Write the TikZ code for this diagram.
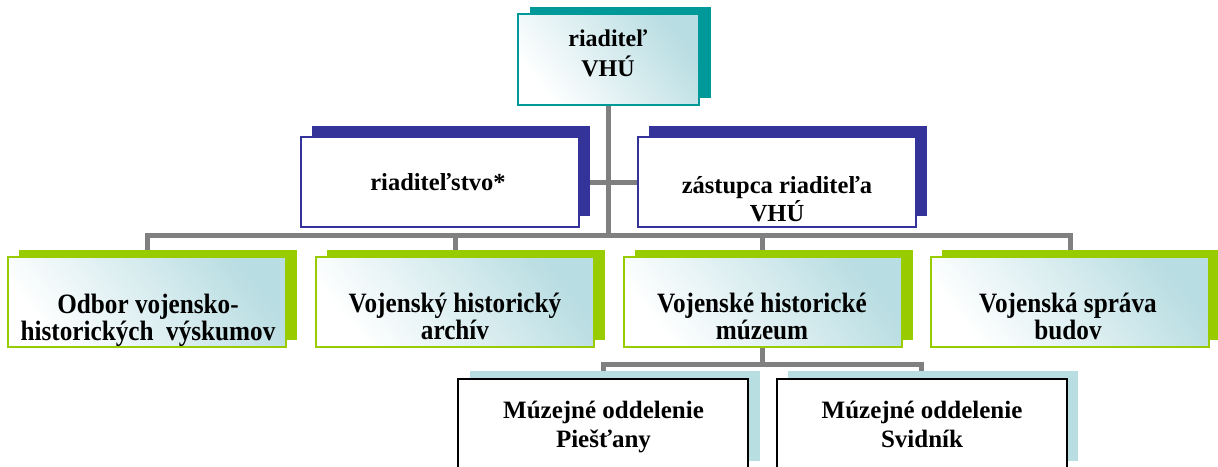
\documentclass[tikz,border=0pt]{standalone}
\usepackage{fontspec}
\setmainfont{Liberation Serif}
\newfontfamily\gfont[FakeStretch=0.9]{Liberation Serif}
\usetikzlibrary{shadows,backgrounds}
\definecolor{vteal}{HTML}{009999}
\definecolor{vnavy}{HTML}{333399}
\definecolor{vgreen}{HTML}{99CC00}
\definecolor{vlblue}{HTML}{B9DEE2}
\definecolor{vgb}{HTML}{B8DDE2}
\definecolor{vgray}{HTML}{808080}
\begin{document}
\begin{tikzpicture}[x=1pt,y=-1pt,
  box/.style={rectangle,inner sep=0pt},
  grad/.style={shading=axis,top color=vgb,middle color=vgb!30!white,bottom color=white,shading angle=-52},
  topbox/.style={box,grad,draw=vteal,line width=2pt,minimum width=181pt,minimum height=91pt,
    general shadow={fill=vteal,shadow xshift=11.5pt,shadow yshift=7.5pt}},
  lvlbox/.style={box,fill=white,draw=vnavy,line width=1.5pt,minimum width=278pt,minimum height=90pt,
    general shadow={fill=vnavy,shadow xshift=11pt,shadow yshift=11pt}},
  grnbox/.style={box,grad,draw=vgreen,line width=2pt,minimum width=278pt,minimum height=90pt,
    general shadow={fill=vgreen,shadow xshift=11pt,shadow yshift=7pt}},
  musbox/.style={box,fill=white,draw=black,line width=2pt,minimum width=290pt,minimum height=90pt,
    general shadow={fill=vlblue,shadow xshift=11.5pt,shadow yshift=8pt}},
  conn/.style={draw=vgray,line width=5pt},
  ttop/.style={align=center,inner sep=0pt,font=\bfseries\fontsize{24}{30}\selectfont},
  tlvl/.style={align=center,inner sep=0pt,font=\bfseries\fontsize{24.5}{28}\selectfont},
  tgrn/.style={align=center,inner sep=0pt,font=\gfont\bfseries\fontsize{28}{27}\selectfont},
  tmus/.style={align=center,inner sep=0pt,font=\bfseries\fontsize{25}{29}\selectfont}]
\useasboundingbox (0,0) rectangle (1218,466);
% boxes
\node[topbox] (top) at (608.5,59.5) {};
\node[lvlbox] (r) at (440,182) {};
\node[lvlbox] (z) at (777,182) {};
\node[grnbox] (b1) at (147,302) {};
\node[grnbox] (b2) at (455,302) {};
\node[grnbox] (b3) at (762.5,302) {};
\node[grnbox] (b4) at (1070,302) {};
\node[musbox] (m1) at (603,424) {};
\node[musbox] (m2) at (921.5,424) {};
% texts
\node[ttop] (ttop) at (608,53) {riaditeľ\\VHÚ};
\node[tlvl] (tr) at (438,182) {riaditeľstvo*};
\node[tlvl] (tz) at (777,199) {zástupca riaditeľa\\VHÚ};
\node[tgrn] (tb1) at (148,320) {Odbor vojensko-\\historických~ výskumov};
\node[tgrn] (tb2) at (455,316.5) {Vojenský historický\\archív};
\node[tgrn] (tb3) at (762,316.5) {Vojenské historické\\múzeum};
\node[tgrn] (tb4) at (1068,316.5) {Vojenská správa\\budov};
\node[tmus] (tm1) at (603.5,427) {Múzejné oddelenie\\Piešťany};
\node[tmus] (tm2) at (922,424) {Múzejné oddelenie\\Svidník};
% connectors
\begin{scope}[on background layer]
\path (top.south) ++(0,129) coordinate (bus);
\path (b3.south) ++(0,16) coordinate (bus2);
\draw[conn] (top.south) -- (bus);
\draw[conn] (r.east) -- (z.west);
\draw[conn] (b1.north) |- (bus) -| (b4.north);
\draw[conn] (b2.north) -- (b2.north |- bus);
\draw[conn] (b3.north) -- (b3.north |- bus);
\draw[conn] (b3.south) -- (bus2);
\draw[conn] (m1.north) |- (bus2) -| (m2.north);
\end{scope}
\end{tikzpicture}
\end{document}
